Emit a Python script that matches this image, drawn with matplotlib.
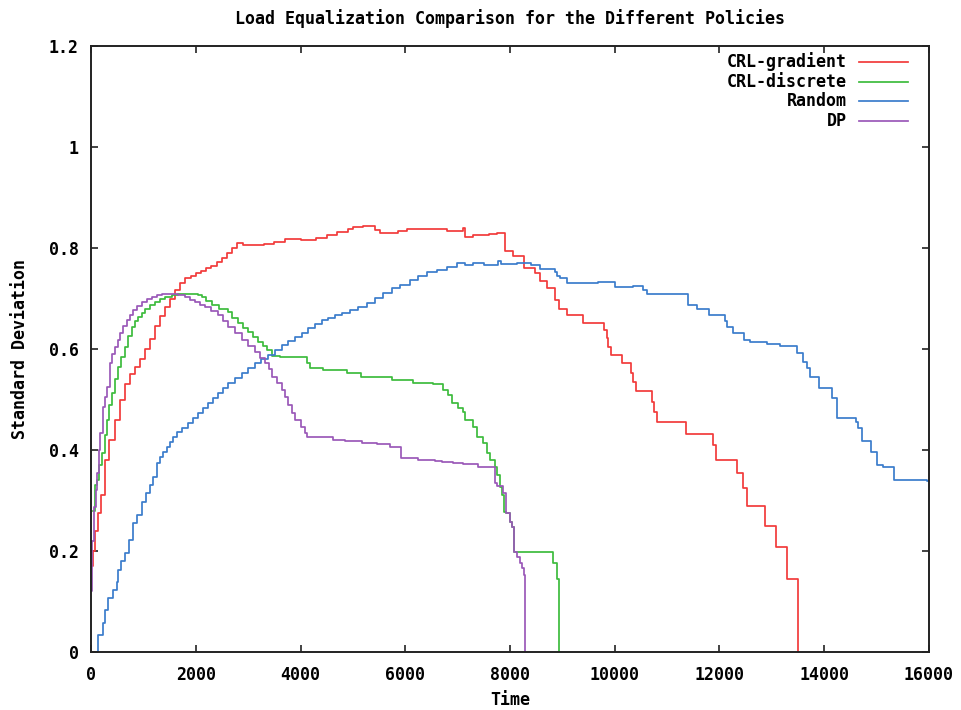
import matplotlib
matplotlib.use("Agg")
import matplotlib.pyplot as plt

# ---------------- data (step curves, where='post') ----------------
grad_x = [0, 30, 70, 130, 200, 270, 350, 460, 560, 650, 750, 840, 940, 1030, 1130, 1220,
          1320, 1410, 1500, 1600, 1700, 1800, 1900, 2000, 2100, 2200, 2300, 2400, 2500, 2600,
          2700, 2780, 2900, 3300, 3500, 3700, 4000, 4300, 4500, 4700, 4900, 5000, 5200, 5420,
          5520, 5860, 6030, 6800, 7100, 7140, 7300, 7450, 7600, 7750, 7900, 8060, 8270, 8480,
          8570, 8700, 8860, 8940, 9090, 9400, 9795, 9850, 9870, 9930, 10140, 10310, 10350,
          10400, 10710, 10750, 10800, 11360, 11880, 11930, 12330, 12450, 12530, 12870, 13080,
          13290, 13500]
grad_y = [0.17, 0.20, 0.24, 0.275, 0.31, 0.38, 0.42, 0.46, 0.50, 0.53, 0.55, 0.565, 0.58, 0.60,
          0.62, 0.645, 0.665, 0.683, 0.70, 0.717, 0.73, 0.74, 0.745, 0.75, 0.755, 0.76, 0.765,
          0.772, 0.78, 0.79, 0.80, 0.81, 0.806, 0.808, 0.812, 0.818, 0.816, 0.82, 0.825, 0.832,
          0.838, 0.842, 0.844, 0.835, 0.83, 0.833, 0.838, 0.833, 0.84, 0.822, 0.825, 0.826,
          0.828, 0.83, 0.794, 0.784, 0.76, 0.75, 0.735, 0.72, 0.697, 0.68, 0.667, 0.652, 0.638,
          0.622, 0.604, 0.588, 0.572, 0.552, 0.535, 0.517, 0.495, 0.475, 0.455, 0.432, 0.41,
          0.38, 0.354, 0.325, 0.29, 0.25, 0.208, 0.145, 0.0]

disc_x = [40, 80, 115, 160, 210, 260, 305, 350, 400, 460, 515, 580, 650, 710, 780, 840, 900,
          970, 1030, 1120, 1220, 1320, 1413, 1550, 1660, 2040, 2120, 2200, 2310, 2450, 2616,
          2700, 2807, 2900, 3000, 3100, 3190, 3280, 3360, 3456, 3600, 4120, 4180, 4430, 4890,
          5150, 5750, 6150, 6530, 6720, 6815, 6890, 7000, 7100, 7140, 7290, 7370, 7485, 7560,
          7620, 7715, 7750, 7800, 7850, 7885, 7923, 8000, 8040, 8076, 8820, 8900, 8935]
disc_y = [0.28, 0.33, 0.34, 0.37, 0.394, 0.43, 0.46, 0.49, 0.513, 0.54, 0.565, 0.585, 0.604,
          0.625, 0.644, 0.655, 0.663, 0.672, 0.68, 0.688, 0.693, 0.699, 0.703, 0.706, 0.709,
          0.706, 0.703, 0.695, 0.687, 0.68, 0.673, 0.662, 0.651, 0.642, 0.634, 0.624, 0.614,
          0.606, 0.598, 0.586, 0.584, 0.572, 0.562, 0.558, 0.552, 0.545, 0.538, 0.533, 0.53,
          0.519, 0.509, 0.493, 0.484, 0.475, 0.46, 0.446, 0.426, 0.414, 0.394, 0.38, 0.366,
          0.35, 0.327, 0.31, 0.277, 0.275, 0.258, 0.248, 0.198, 0.176, 0.145, 0.0]

rand_x = [130, 131, 230, 260, 325, 420, 496, 520, 580, 650, 725, 800, 880, 975, 1050, 1125,
          1185, 1260, 1320, 1380, 1450, 1510, 1565, 1650, 1737, 1850, 1950, 2043, 2140, 2234,
          2330, 2425, 2520, 2616, 2750, 2883, 3000, 3131, 3250, 3380, 3510, 3647, 3770, 3895,
          4020, 4143, 4280, 4410, 4530, 4660, 4800, 4945, 5100, 5270, 5420, 5575, 5740, 5900,
          6090, 6250, 6415, 6600, 6800, 6990, 7150, 7300, 7500, 7780, 7830, 8130, 8400, 8570,
          8850, 8900, 8955, 9090, 9680, 10000, 10350, 10540, 10610, 11400, 11570, 11800, 12100,
          12145, 12260, 12470, 12580, 12900, 13150, 13480, 13590, 13670, 13730, 13900, 14150,
          14240, 14610, 14650, 14720, 14890, 15010, 15120, 15330, 15960, 16000]
rand_y = [0.0, 0.034, 0.057, 0.083, 0.107, 0.123, 0.139, 0.162, 0.18, 0.196, 0.222, 0.255,
          0.271, 0.297, 0.315, 0.33, 0.347, 0.374, 0.386, 0.396, 0.406, 0.416, 0.426, 0.435,
          0.443, 0.453, 0.463, 0.473, 0.483, 0.493, 0.503, 0.513, 0.523, 0.533, 0.543, 0.552,
          0.562, 0.572, 0.58, 0.588, 0.598, 0.608, 0.616, 0.624, 0.632, 0.642, 0.65, 0.657,
          0.662, 0.667, 0.672, 0.677, 0.684, 0.691, 0.701, 0.711, 0.72, 0.727, 0.737, 0.745,
          0.753, 0.757, 0.762, 0.77, 0.767, 0.771, 0.767, 0.775, 0.768, 0.771, 0.767, 0.758,
          0.753, 0.745, 0.74, 0.731, 0.733, 0.723, 0.725, 0.717, 0.709, 0.687, 0.679, 0.667,
          0.655, 0.644, 0.632, 0.618, 0.614, 0.61, 0.606, 0.592, 0.574, 0.562, 0.545, 0.523,
          0.503, 0.463, 0.455, 0.443, 0.418, 0.396, 0.37, 0.366, 0.34, 0.338, 0.338]

dp_x = [0, 20, 57, 90, 115, 150, 172, 230, 270, 305, 363, 410, 458, 510, 554, 620, 687, 740,
        802, 880, 974, 1070, 1165, 1260, 1356, 1660, 1795, 1890, 1986, 2080, 2177, 2300, 2425,
        2520, 2616, 2750, 2883, 3000, 3131, 3230, 3322, 3400, 3456, 3550, 3647, 3700, 3761,
        3830, 3895, 4000, 4086, 4120, 4620, 4850, 5170, 5460, 5710, 5920, 6240, 6560, 6700,
        6910, 7100, 7390, 7713, 7760, 7866, 7923, 8000, 8040, 8076, 8140, 8190, 8230, 8270,
        8286]
dp_y = [0.12, 0.22, 0.287, 0.32, 0.354, 0.40, 0.434, 0.485, 0.505, 0.525, 0.572, 0.59, 0.604,
        0.618, 0.632, 0.645, 0.657, 0.668, 0.677, 0.686, 0.693, 0.699, 0.703, 0.706, 0.709,
        0.706, 0.703, 0.698, 0.693, 0.688, 0.683, 0.675, 0.667, 0.656, 0.644, 0.631, 0.618,
        0.606, 0.594, 0.583, 0.572, 0.56, 0.545, 0.532, 0.519, 0.505, 0.489, 0.474, 0.459,
        0.445, 0.434, 0.425, 0.42, 0.418, 0.414, 0.411, 0.406, 0.384, 0.381, 0.379,
        0.377, 0.375, 0.373, 0.366, 0.335, 0.329, 0.315, 0.275, 0.258, 0.248, 0.198, 0.188,
        0.176, 0.166, 0.153, 0.0]

series_labels = ["CRL-gradient", "CRL-discrete", "Random", "DP"]
series_colors = ["#f23a3a", "#3dbb3d", "#3a7ccc", "#9a58b8"]

x_ticks = [0, 2000, 4000, 6000, 8000, 10000, 12000, 14000, 16000]
y_ticks = [0, 0.2, 0.4, 0.6, 0.8, 1.0, 1.2]
y_tick_labels = ["0", "0.2", "0.4", "0.6", "0.8", "1", "1.2"]

# ---------------- figure ----------------
W, H = 962, 710
fig = plt.figure(figsize=(W / 100, H / 100), dpi=100)
L, R, T, B = 91, 929, 46, 652
ax = fig.add_axes([L / W, (H - B) / H, (R - L) / W, (B - T) / H])

font = dict(family="DejaVu Sans Mono", weight="bold", size=12)

data = [(grad_x, grad_y), (disc_x, disc_y), (rand_x, rand_y), (dp_x, dp_y)]
for (xs, ys), lab, col in zip(data, series_labels, series_colors):
    ax.step(xs, ys, where="post", color=col, lw=1.25, label=lab, zorder=3)

ax.set_xlim(0, 16000)
ax.set_ylim(0, 1.2)
ax.set_xticks(x_ticks)
ax.set_xticklabels([str(v) for v in x_ticks], **font)
ax.set_yticks(y_ticks)
ax.set_yticklabels(y_tick_labels, **font)
ax.tick_params(direction="in", length=5, width=1.2, color="#222222",
               top=True, right=True)
ax.tick_params(axis="x", pad=10)
ax.tick_params(axis="y", pad=9)
for s in ax.spines.values():
    s.set_linewidth(1.4)
    s.set_color("#222222")
    s.set_zorder(5)

ax.set_title("Load Equalization Comparison for the Different Policies",
             pad=16, **font)
ax.set_xlabel("Time", labelpad=5, **font)
ax.set_ylabel("Standard Deviation", labelpad=14, **font)

# legend, gnuplot style: right-aligned text then line sample
rows_py = [62, 82, 101, 121]
for lab, col, py in zip(series_labels, series_colors, rows_py):
    yf = (B - py) / (B - T)
    ax.text((847 - L) / (R - L), yf, lab, ha="right", va="center",
            transform=ax.transAxes, **font)
    ax.plot([(859 - L) / (R - L), (908 - L) / (R - L)], [yf, yf], color=col,
            lw=1.25, transform=ax.transAxes, clip_on=False)

fig.savefig("out.png", dpi=100)
